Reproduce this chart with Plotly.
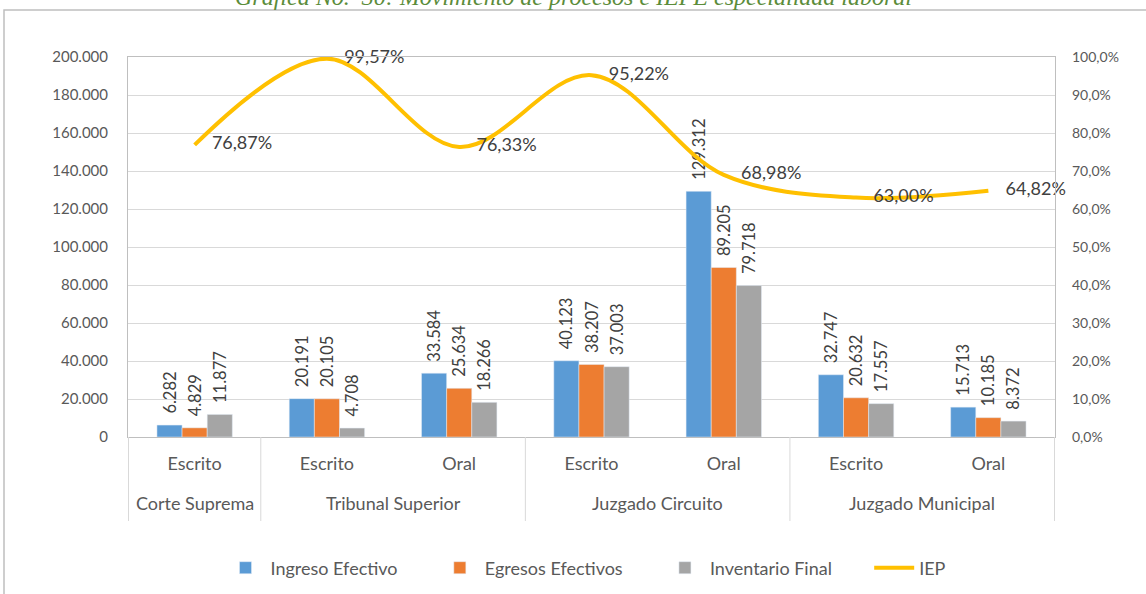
import plotly.graph_objects as go

groups = ["Corte Suprema", "Tribunal Superior", "Tribunal Superior", "Juzgado Circuito",
          "Juzgado Circuito", "Juzgado Municipal", "Juzgado Municipal"]
types = ["Escrito", "Escrito", "Oral", "Escrito", "Oral", "Escrito", "Oral"]

ingreso = [6282, 20191, 33584, 40123, 129312, 32747, 15713]
egresos = [4829, 20105, 25634, 38207, 89205, 20632, 10185]
inventario = [11877, 4708, 18266, 37003, 79718, 17557, 8372]
iep = [0.7687, 0.9957, 0.7633, 0.9522, 0.6898, 0.6300, 0.6482]

cats = [f"{g} · {t}" for g, t in zip(groups, types)]
FONT = "Lato"
TXT = "#404040"
AX = "#595959"
PAD = "\u00a0" * 7

fig = go.Figure()
for name, vals, col in [("Ingreso Efectivo", ingreso, "#5B9BD5"),
                        ("Egresos Efectivos", egresos, "#ED7D31"),
                        ("Inventario Final", inventario, "#A5A5A5")]:
    fig.add_trace(go.Bar(x=cats, y=vals, name=name + PAD, marker_color=col,
                         texttemplate="\u00a0\u00a0%{y:,d}", textposition="outside", textangle=-90,
                         textfont=dict(family=FONT, size=16.5, color=TXT),
                         constraintext="none", cliponaxis=False))

fig.add_trace(go.Scatter(x=cats, y=iep, name="IEP", yaxis="y2", mode="lines+markers+text",
                         line=dict(color="#FFC000", width=4, shape="spline", smoothing=1.0),
                         marker=dict(size=26, color="rgba(0,0,0,0)"),
                         texttemplate="%{y:.2%}", textposition="middle right",
                         textfont=dict(family=FONT, size=18, color=TXT),
                         cliponaxis=False))

W, H = 1146, 594
L, R, T, B = 128, 91, 57, 157
pw, ph = W - L - R, H - T - B

def px2x(p):
    return (p - L) / pw

def py2y(p):
    return (H - B - p) / ph

fig.update_layout(
    width=W, height=H, separators=",.",
    margin=dict(l=L, r=R, t=T, b=B, autoexpand=False),
    paper_bgcolor="white", plot_bgcolor="white",
    font=dict(family=FONT, size=15, color=AX),
    barmode="group", bargap=0.43, bargroupgap=0,
    xaxis=dict(type="category", tickvals=cats, ticktext=types, showgrid=False,
               showline=True, linecolor="#BFBFBF", mirror=True, ticks="",
               ticklabelstandoff=10, tickfont=dict(family=FONT, size=18, color=AX)),
    yaxis=dict(range=[0, 200000], dtick=20000, tickformat=",d", showgrid=True,
               gridcolor="#D9D9D9", showline=True, linecolor="#BFBFBF", mirror=True,
               zeroline=False, ticklabelstandoff=16,
               tickfont=dict(family=FONT, size=15, color=AX)),
    yaxis2=dict(range=[0, 1], dtick=0.1, tickformat=".1%", overlaying="y", side="right",
                showgrid=False, zeroline=False, ticklabelstandoff=16,
                tickfont=dict(family=FONT, size=14, color=AX)),
    legend=dict(orientation="h", x=px2x(586), xanchor="center", y=py2y(568), yanchor="middle",
                font=dict(family=FONT, size=18, color=AX), itemwidth=40,
                traceorder="normal"),
    showlegend=True,
)

# group labels and dividers of the two-level category axis
uniq = []
for g in groups:
    if g not in uniq:
        uniq.append(g)
for g in uniq:
    idx = [i for i, gg in enumerate(groups) if gg == g]
    fig.add_annotation(xref="x", yref="paper", x=sum(idx) / len(idx), y=py2y(503),
                       xanchor="center", yanchor="middle", showarrow=False, text=g,
                       font=dict(family=FONT, size=18, color=AX))
bounds = [-0.5] + [i + 0.5 for i in range(len(groups) - 1) if groups[i] != groups[i + 1]] + [len(groups) - 0.5]
for b in bounds:
    fig.add_shape(type="line", xref="x", yref="paper", x0=b, x1=b, y0=0, y1=py2y(521),
                  line=dict(color="#D9D9D9", width=1))

fig.add_shape(type="rect", xref="paper", yref="paper",
              x0=px2x(4), x1=px2x(1160), y0=py2y(10), y1=py2y(610),
              line=dict(color="#BFBFBF", width=1.5), fillcolor="rgba(0,0,0,0)", layer="below")

fig.add_annotation(xref="paper", yref="paper", x=px2x(573), y=py2y(12), xanchor="center",
                   yanchor="bottom", showarrow=False,
                   text="<i>Gráfica No.  30: Movimiento de procesos e IEPE especialidad laboral</i>",
                   font=dict(family="Liberation Serif", size=24, color="#5B8C3A"))

fig.write_html("out.html", config={"displayModeBar": False},
               post_script="document.body.style.margin='0';")
